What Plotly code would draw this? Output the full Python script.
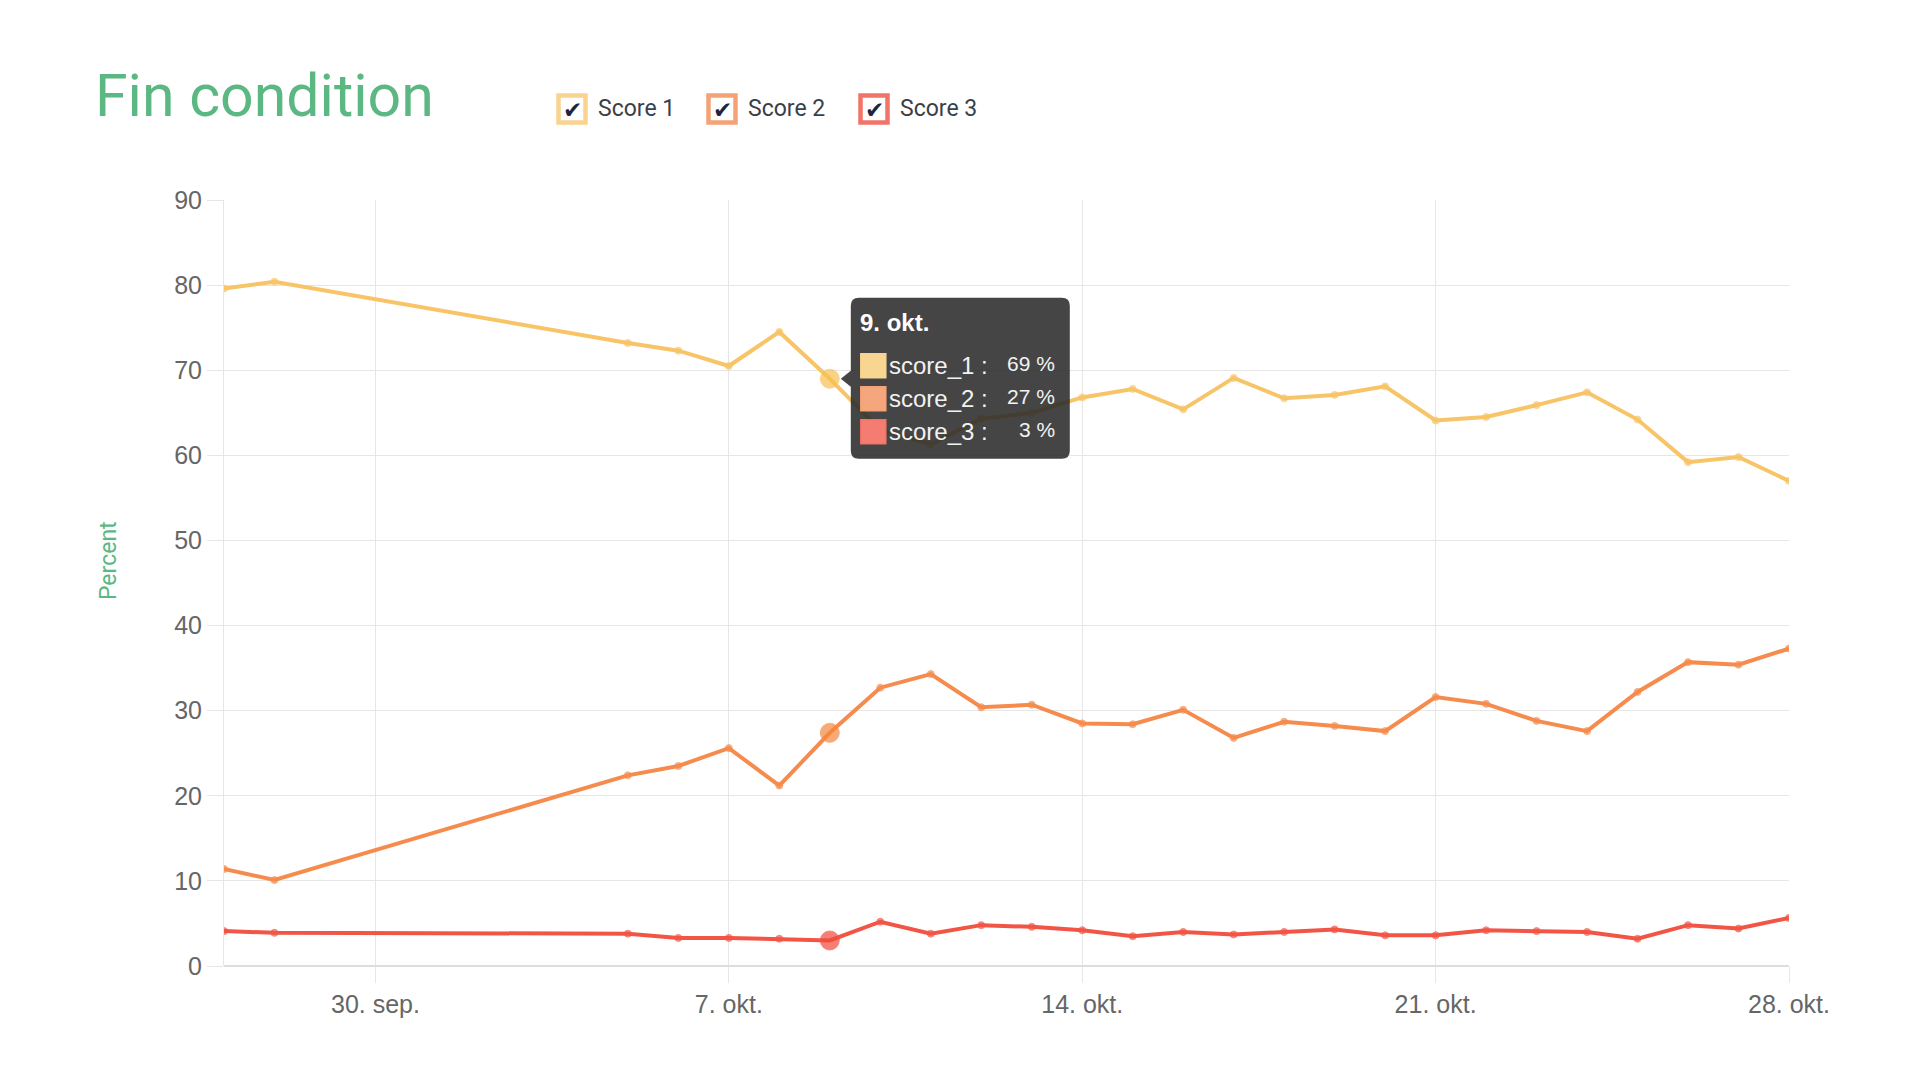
import plotly.graph_objects as go
import pandas as pd

# ---------------- data ----------------
dates = ["2018-09-27", "2018-09-28", "2018-10-05", "2018-10-06", "2018-10-07", "2018-10-08",
         "2018-10-09", "2018-10-10", "2018-10-11", "2018-10-12", "2018-10-13", "2018-10-14",
         "2018-10-15", "2018-10-16", "2018-10-17", "2018-10-18", "2018-10-19", "2018-10-20",
         "2018-10-21", "2018-10-22", "2018-10-23", "2018-10-24", "2018-10-25", "2018-10-26",
         "2018-10-27", "2018-10-28"]
score_1 = [79.6, 80.4, 73.2, 72.3, 70.5, 74.5, 69.0, 63.0, 61.3, 64.3, 65.0, 66.8, 67.8,
           65.4, 69.1, 66.7, 67.1, 68.1, 64.1, 64.5, 65.9, 67.4, 64.2, 59.2, 59.8, 57.0]
score_2 = [11.4, 10.1, 22.4, 23.5, 25.6, 21.2, 27.4, 32.7, 34.3, 30.4, 30.7, 28.5, 28.4,
           30.1, 26.8, 28.7, 28.2, 27.6, 31.6, 30.8, 28.8, 27.6, 32.2, 35.7, 35.4, 37.3]
score_3 = [4.1, 3.9, 3.8, 3.3, 3.3, 3.2, 3.0, 5.2, 3.8, 4.8, 4.6, 4.2, 3.5, 4.0, 3.7,
           4.0, 4.3, 3.6, 3.6, 4.2, 4.1, 4.0, 3.2, 4.8, 4.4, 5.65]
series_names = ["Score 1", "Score 2", "Score 3"]
tooltip_names = ["score_1", "score_2", "score_3"]
tick_dates = ["2018-09-30", "2018-10-07", "2018-10-14", "2018-10-21", "2018-10-28"]
tick_labels = ["30. sep.", "7. okt.", "14. okt.", "21. okt.", "28. okt."]
highlight_date = "2018-10-09"
month_names = {9: "sep.", 10: "okt."}

# ---------------- styles ----------------
line_colors = ["#f8c468", "#f58c4e", "#f25545"]
hi_colors = ["#f8c04f", "#f5873a", "#f24a3a"]
box_colors = ["#f9d38f", "#f5a276", "#f27468"]
box_fill = ["#f8d590", "#f5a67c", "#f47c70"]
green = "#5cb882"
grid = "#e6e6e6"
tick_font = dict(family="Liberation Sans, Arial, sans-serif", size=25, color="#666666")

all_scores = [score_1, score_2, score_3]
hi_idx = dates.index(highlight_date)

fig = go.Figure()
for name, vals, col, hcol in zip(series_names, all_scores, line_colors, hi_colors):
    sizes = [19 if i == hi_idx else 7 for i in range(len(dates))]
    cols = [hcol if i == hi_idx else col for i in range(len(dates))]
    fig.add_trace(go.Scatter(
        x=dates, y=vals, name=name, mode="lines+markers",
        line=dict(color=col, width=4),
        marker=dict(color=cols, size=sizes),
        showlegend=False,
    ))

shapes = []
annotations = []

# title
annotations.append(dict(text="Fin condition", xref="paper", yref="paper", x=0, y=1,
                        xanchor="left", yanchor="middle", xshift=-131, yshift=105,
                        showarrow=False,
                        font=dict(family="Roboto, sans-serif", size=59, color=green)))
# y axis title
annotations.append(dict(text="Percent", xref="paper", yref="paper", x=0, y=0.5,
                        xanchor="center", yanchor="middle", xshift=-116, yshift=22,
                        textangle=-90, showarrow=False,
                        font=dict(family="Roboto, sans-serif", size=23, color=green)))

# custom legend with check boxes
box_x = [348, 498, 650]
for i, name in enumerate(series_names):
    cx = box_x[i]
    shapes.append(dict(type="rect", xref="paper", yref="paper", xsizemode="pixel",
                       ysizemode="pixel", xanchor=0, yanchor=1,
                       x0=cx - 13.5, x1=cx + 13.5, y0=91 - 13.5, y1=91 + 13.5,
                       line=dict(color=box_colors[i], width=4.5), fillcolor="white"))
    annotations.append(dict(text="✔", xref="paper", yref="paper", x=0, y=1,
                            xanchor="center", yanchor="middle", xshift=cx, yshift=90,
                            showarrow=False,
                            font=dict(family="DejaVu Sans, sans-serif", size=23, color="#1d2540")))
    annotations.append(dict(text=name, xref="paper", yref="paper", x=0, y=1,
                            xanchor="left", yanchor="middle", xshift=cx + 24, yshift=92,
                            showarrow=False,
                            font=dict(family="Roboto, sans-serif", size=23, color="#3b3f4b")))

# tooltip anchored on highlighted score_1 point
hx = dates[hi_idx]
hy = score_1[hi_idx]
tip_path = ("M 29,81 L 232,81 Q 240,81 240,73 L 240,-72 Q 240,-80 232,-80 "
            "L 29,-80 Q 21,-80 21,-72 L 21,-8 L 11,0 L 21,8 L 21,73 Q 21,81 29,81 Z")
shapes.append(dict(type="path", xref="x", yref="y", xsizemode="pixel", ysizemode="pixel",
                   xanchor=hx, yanchor=hy, path=tip_path,
                   fillcolor="rgba(38,38,38,0.86)", line=dict(width=0), layer="above"))
d = pd.Timestamp(hx)
annotations.append(dict(text=f"<b>{d.day}. {month_names[d.month]}</b>", xref="x", yref="y",
                        x=hx, y=hy, xanchor="left", yanchor="middle", xshift=28, yshift=56,
                        showarrow=False,
                        font=dict(family="Liberation Sans, Arial, sans-serif", size=24, color="white")))
row_y = [13, -20, -53]
for i in range(3):
    ry = row_y[i]
    shapes.append(dict(type="rect", xref="x", yref="y", xsizemode="pixel", ysizemode="pixel",
                       xanchor=hx, yanchor=hy, x0=31, x1=56, y0=ry - 12, y1=ry + 12,
                       fillcolor=box_fill[i], line=dict(color=box_colors[i], width=1.5),
                       layer="above"))
    annotations.append(dict(text=f"{tooltip_names[i]} :", xref="x", yref="y", x=hx, y=hy,
                            xanchor="left", yanchor="middle", xshift=57, yshift=ry,
                            showarrow=False,
                            font=dict(family="Liberation Sans, Arial, sans-serif", size=24,
                                      color="#f2f2f2")))
    annotations.append(dict(text=f"{round(all_scores[i][hi_idx])} %", xref="x", yref="y",
                            x=hx, y=hy, xanchor="right", yanchor="middle", xshift=227,
                            yshift=ry + 2, showarrow=False,
                            font=dict(family="Liberation Sans, Arial, sans-serif", size=21,
                                      color="#f2f2f2")))

fig.update_layout(
    width=1920, height=1080,
    margin=dict(l=224, r=131, t=200, b=114),
    paper_bgcolor="white", plot_bgcolor="white",
    shapes=shapes, annotations=annotations,
    showlegend=False,
    xaxis=dict(type="date", range=[dates[0], tick_dates[-1]],
               tickvals=tick_dates, ticktext=tick_labels,
               showgrid=True, gridcolor=grid, gridwidth=1,
               ticks="outside", ticklen=16, tickcolor=grid,
               showline=False, zeroline=False, tickfont=tick_font),
    yaxis=dict(range=[0, 90], dtick=10, tick0=0,
               showgrid=True, gridcolor=grid, gridwidth=1,
               ticks="outside", ticklen=16, tickcolor=grid,
               showline=True, linecolor=grid, linewidth=1,
               zeroline=True, zerolinecolor="#dddddd", zerolinewidth=1.5,
               tickfont=tick_font),
)

fig.write_html("out.html")
